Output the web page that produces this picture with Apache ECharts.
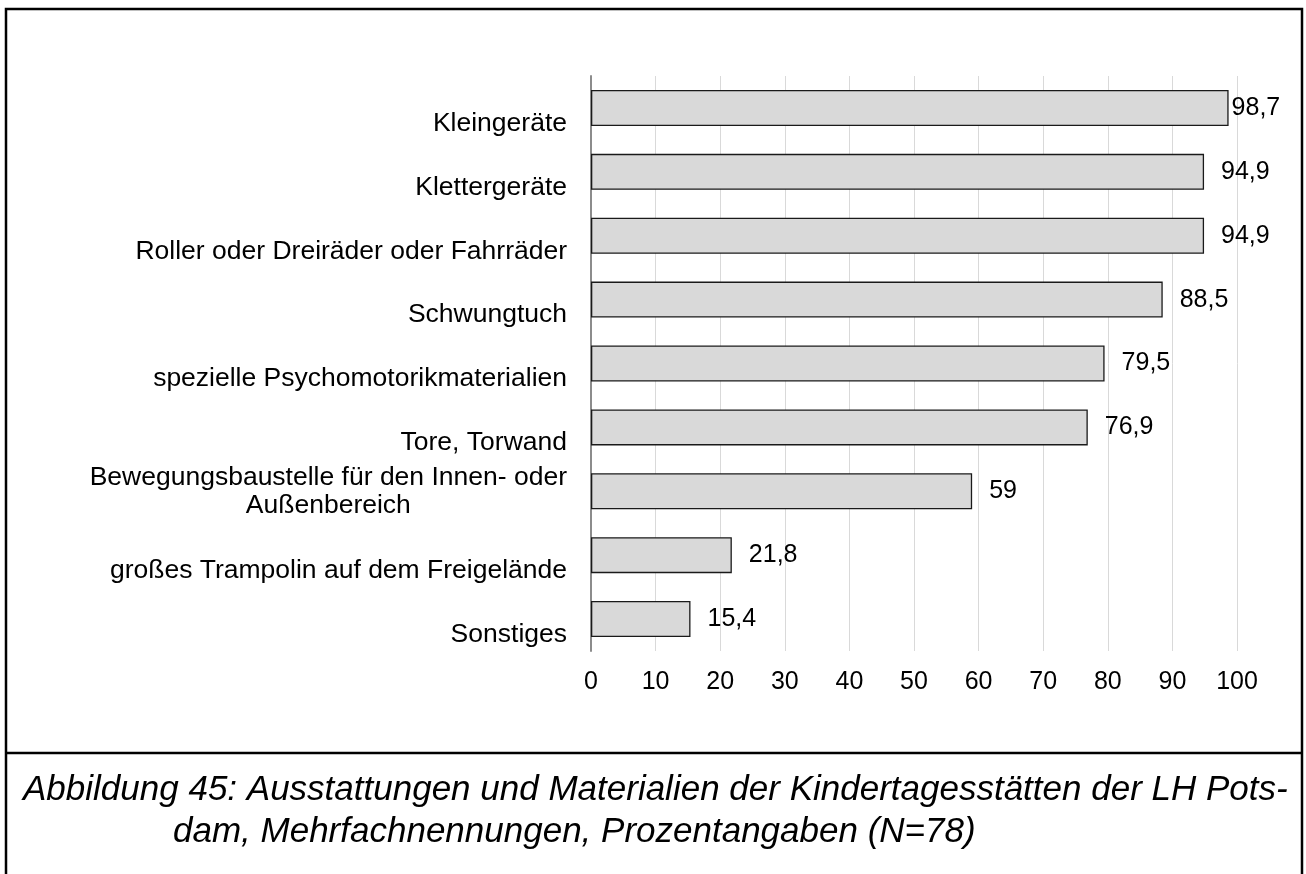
<!DOCTYPE html>
<html>
<head>
<meta charset="utf-8">
<script src="https://cdn.jsdelivr.net/npm/echarts@6/dist/echarts.min.js"></script>
<style>
  html, body { margin: 0; padding: 0; background: #fff; }
  #chart { width: 1306px; height: 874px; }
</style>
</head>
<body>
<div id="chart"></div>
<script>
// Equipment categories (top to bottom) and their share in percent
const categories = [
  'Kleingeräte',
  'Klettergeräte',
  'Roller oder Dreiräder oder Fahrräder',
  'Schwungtuch',
  'spezielle Psychomotorikmaterialien',
  'Tore, Torwand',
  'Bewegungsbaustelle für den Innen- oder\nAußenbereich',
  'großes Trampolin auf dem Freigelände',
  'Sonstiges'
];
const values = [98.7, 94.9, 94.9, 88.5, 79.5, 76.9, 59, 21.8, 15.4];

// Value axis range and step
const axisMin = 0;
const axisMax = 100;
const axisStep = 10;

const captionLines = [
  'Abbildung 45: Ausstattungen und Materialien der Kindertagesstätten der LH Pots-',
  'dam, Mehrfachnennungen, Prozentangaben (N=78)'
];

const FONT = '"Liberation Sans", Arial, sans-serif';
const CAT_SIZE = 26.5;
const NUM_SIZE = 25;
const CAPTION_SIZE = 35;

// width of the longest line of a multi-line label, so its lines can be centred in one block
function textWidth(str, size) {
  const ctx = document.createElement('canvas').getContext('2d');
  ctx.font = size + 'px ' + FONT;
  return ctx.measureText(str).width;
}

const fmtNum = v => String(v).replace('.', ',');

const chart = echarts.init(document.getElementById('chart'), null, { renderer: 'canvas' });

chart.setOption({
  backgroundColor: '#fff',
  animation: false,
  grid: { left: 591, right: 69, top: 76, bottom: 223, containLabel: false },
  xAxis: {
    type: 'value',
    min: axisMin,
    max: axisMax,
    interval: axisStep,
    axisLine: { show: false },
    axisTick: { show: false },
    splitLine: { show: true, lineStyle: { color: '#d9d9d9', width: 1 } },
    axisLabel: {
      color: '#000',
      fontFamily: FONT,
      fontSize: NUM_SIZE,
      margin: 19
    }
  },
  yAxis: {
    type: 'category',
    data: categories,
    inverse: true,
    axisLine: { show: true, lineStyle: { color: '#8c8c8c', width: 2 } },
    axisTick: { show: false },
    axisLabel: {
      color: '#000',
      fontFamily: FONT,
      fontSize: CAT_SIZE,
      lineHeight: 31,
      margin: 24,
      formatter: function (name) {
        if (name.indexOf('\n') >= 0) {
          const lines = name.split('\n');
          return lines.map(l => '{c|' + l + '}').join('\n');
        }
        // single-line names sit on the lower line of the band
        return '\n' + name;
      },
      rich: {
        c: {
          fontFamily: FONT,
          fontSize: CAT_SIZE,
          lineHeight: 28,
          color: '#000',
          align: 'center',
          width: Math.max(...categories.filter(c => c.indexOf('\n') >= 0)
            .flatMap(c => c.split('\n')).map(l => textWidth(l, CAT_SIZE)))
        }
      }
    }
  },
  series: [{
    type: 'bar',
    barWidth: 36,
    data: values.map((v, i) => ({
      value: v,
      label: i === 0 ? { distance: 3 } : undefined
    })),
    itemStyle: { color: '#d9d9d9', borderColor: '#1a1a1a', borderWidth: 1.3 },
    label: {
      show: true,
      position: 'right',
      distance: 17,
      color: '#000',
      fontFamily: FONT,
      fontSize: NUM_SIZE,
      formatter: p => fmtNum(p.value)
    }
  }],
  graphic: [
    // frame around figure and caption
    {
      type: 'rect',
      shape: { x: 6, y: 9, width: 1296, height: 880 },
      style: { fill: 'none', stroke: '#000', lineWidth: 2.5 },
      silent: true
    },
    {
      type: 'line',
      shape: { x1: 6, y1: 753, x2: 1302, y2: 753 },
      style: { stroke: '#000', lineWidth: 2.5 },
      silent: true
    },
    {
      type: 'text',
      left: 23,
      top: 773,
      style: {
        text: captionLines[0],
        fill: '#000',
        fontFamily: FONT,
        fontStyle: 'italic',
        fontSize: CAPTION_SIZE
      }
    },
    {
      type: 'text',
      left: 173,
      top: 815,
      style: {
        text: captionLines[1],
        fill: '#000',
        fontFamily: FONT,
        fontStyle: 'italic',
        fontSize: CAPTION_SIZE
      }
    }
  ]
});
</script>
</body>
</html>
